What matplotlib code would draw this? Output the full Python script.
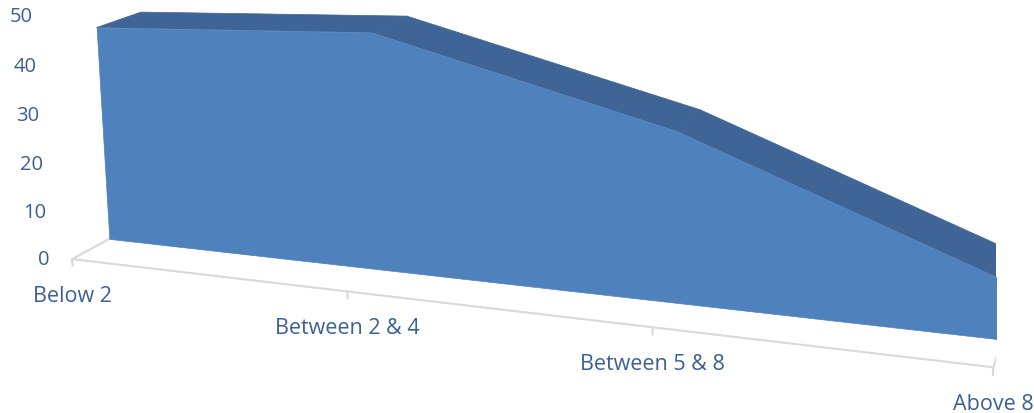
import numpy as np
import matplotlib.pyplot as plt
from matplotlib.transforms import offset_copy
from mpl_toolkits.mplot3d.art3d import Poly3DCollection

categories = ['Below 2', 'Between 2 & 4', 'Between 5 & 8', 'Above 8']
values = [45, 48, 33.5, 11]
yticks = [0, 10, 20, 30, 40, 50]

plt.rcParams['font.family'] = ['Open Sans', 'DejaVu Sans']
text_color = '#3A6094'
front_color = '#4F81BD'
top_color = '#3F6596'
side_color = '#2F5583'
floor_color = '#D9D9D9'

W, H = 1034, 414
fig = plt.figure(figsize=(W / 100, H / 100), dpi=100)

# square 3d axes, placed so the box centre lands where the reference has it
side = 946
cx, cy = 536, 151
frac = 0.095 / 0.185
ax = fig.add_axes([(cx - frac * side) / W, (H - cy - frac * side) / H, side / W, side / H],
                  projection='3d', computed_zorder=False)
ax.set_proj_type('persp', focal_length=0.376)
ax.view_init(elev=15, azim=-71)
ax.set_box_aspect((3.034, 0.765, 0.83), zoom=1.026)
ax.set_axis_off()

n = len(categories)
xs = np.arange(n)
y0, y1 = 0.31, 0.69

# floor outline and ticks
ax.plot([0, n - 1], [0, 0], [0, 0], color=floor_color, lw=1.5, zorder=1)
ax.plot([0, 0], [0, 1], [0, 0], color=floor_color, lw=1.5, zorder=1)
ax.plot([n - 1, n - 1], [0, 1], [0, 0], color=floor_color, lw=1.5, zorder=1)
ax.plot([0, n - 1], [1, 1], [0, 0], color=floor_color, lw=1.5, zorder=1)
for i in xs:
    ax.plot([i, i], [0, 0], [0, -1.4], color=floor_color, lw=1.5, zorder=1)

# series faces
front = [(x, y0, 0) for x in xs] + [(x, y0, v) for x, v in zip(xs[::-1], values[::-1])]
tops = [[(xs[i], y0, values[i]), (xs[i + 1], y0, values[i + 1]),
         (xs[i + 1], y1, values[i + 1]), (xs[i], y1, values[i])] for i in range(n - 1)]
right = [[(xs[-1], y0, 0), (xs[-1], y0, values[-1]), (xs[-1], y1, values[-1]), (xs[-1], y1, 0)]]

ax.add_collection3d(Poly3DCollection(tops, facecolor=top_color, edgecolor=top_color, lw=0.5, zorder=2))
ax.add_collection3d(Poly3DCollection(right, facecolor=side_color, edgecolor=side_color, lw=0.5, zorder=2))
ax.add_collection3d(Poly3DCollection([front], facecolor=front_color, edgecolor=front_color, lw=0.5, zorder=3))

ax.set_xlim(0, n - 1)
ax.set_ylim(0, 1)
ax.set_zlim(0, 50)

ylab_tr = offset_copy(ax.transData, fig=fig, x=-23, y=0, units='dots')
for v in yticks:
    ax.text(0, 0, v, str(v), ha='right', va='center', fontsize=14.5,
            color=text_color, transform=ylab_tr, zorder=5)

xlab_tr = offset_copy(ax.transData, fig=fig, x=0, y=-36, units='dots')
for i, c in enumerate(categories):
    ax.text(i, 0, 0, c, ha='center', va='center', fontsize=15.5,
            color=text_color, transform=xlab_tr, zorder=5)

fig.savefig('out.png', dpi=100)
